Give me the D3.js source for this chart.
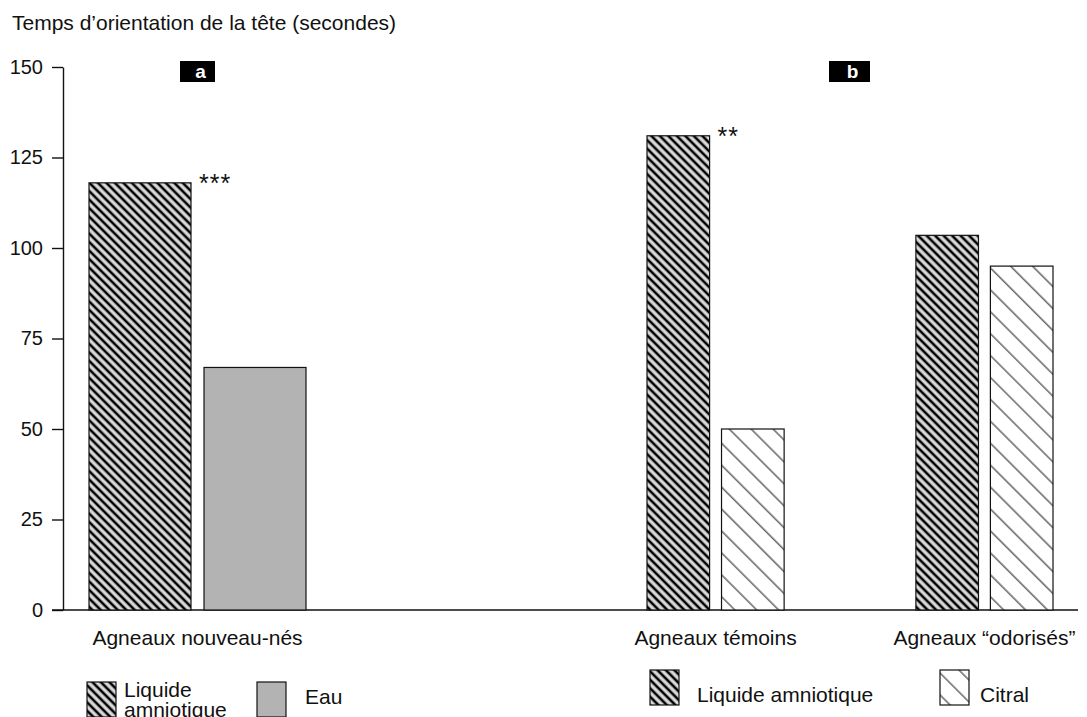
<!DOCTYPE html>
<html>
<head>
<meta charset="utf-8">
<script src="https://cdn.jsdelivr.net/npm/d3@7"></script>
<style>
  body { margin: 0; background: #fff; }
  text { font-family: "Liberation Sans", Arial, sans-serif; fill: #111; }
</style>
</head>
<body>
<div id="chart"></div>
<script>
// Chart data
var groupsA = ["Agneaux nouveau-nés"];
var groupsB = ["Agneaux témoins", "Agneaux “odorisés”"];
var seriesA = ["Liquide amniotique", "Eau"];
var seriesB = ["Liquide amniotique", "Citral"];
var valuesA = [[118, 67]];
var valuesB = [[131, 50], [103.5, 95]];
var starsA = ["***"];
var starsB = ["**", ""];
var yTicks = [0, 25, 50, 75, 100, 125, 150];
var panelLabels = ["a", "b"];

var width = 1087, height = 717;

var svg = d3.select('#chart')
    .append('svg')
    .attr('width', width)
    .attr('height', height);

// Patterns
var defs = svg.append('defs');

// soft black/white stripes for the amniotic liquid
var grad = defs.append('linearGradient')
    .attr('id', 'grad-stripe')
    .attr('x1', 0).attr('x2', 1).attr('y1', 0).attr('y2', 0);
grad.append('stop').attr('offset', '0').attr('stop-color', '#fff');
grad.append('stop').attr('offset', '0.25').attr('stop-color', '#999');
grad.append('stop').attr('offset', '0.4').attr('stop-color', '#000');
grad.append('stop').attr('offset', '0.6').attr('stop-color', '#000');
grad.append('stop').attr('offset', '0.75').attr('stop-color', '#999');
grad.append('stop').attr('offset', '1').attr('stop-color', '#fff');

var pLA = defs.append('pattern')
    .attr('id', 'pat-la')
    .attr('patternUnits', 'userSpaceOnUse')
    .attr('width', 6)
    .attr('height', 6)
    .attr('patternTransform', 'rotate(-45)');
pLA.append('rect').attr('width', 6).attr('height', 6).attr('fill', 'url(#grad-stripe)');

var pCit = defs.append('pattern')
    .attr('id', 'pat-citral')
    .attr('patternUnits', 'userSpaceOnUse')
    .attr('width', 15.5)
    .attr('height', 15.5)
    .attr('patternTransform', 'rotate(-45)');
pCit.append('rect').attr('width', 15.5).attr('height', 15.5).attr('fill', '#fff');
pCit.append('rect').attr('x', 2).attr('width', 1.5).attr('height', 15.5).attr('fill', '#666');

var fills = {
    "Liquide amniotique": "url(#pat-la)",
    "Eau": "#b3b3b3",
    "Citral": "url(#pat-citral)"
};

// Scales
var y = d3.scaleLinear().domain([0, 150]).range([610, 67]);

var xA = d3.scaleBand().domain(groupsA).range([89, 306]).paddingInner(0).paddingOuter(0);
var xAin = d3.scaleBand().domain(seriesA).range([0, xA.bandwidth()]).paddingInner(0.113);

var xB = d3.scaleBand().domain(groupsB).range([647, 1053]).paddingInner(0.49).paddingOuter(0);
var xBin = d3.scaleBand().domain(seriesB).range([0, xB.bandwidth()]).paddingInner(0.16);

// Title
svg.append('text')
    .attr('x', 12)
    .attr('y', 30)
    .style('font-size', '21px')
    .text('Temps d’orientation de la tête (secondes)');

// Y axis
var yAxis = svg.append('g')
    .attr('transform', 'translate(63,0)')
    .call(d3.axisLeft(y).tickValues(yTicks).tickSize(11).tickSizeOuter(0).tickPadding(9));
yAxis.select('.domain').attr('stroke', '#111').attr('stroke-width', 1.4);
yAxis.selectAll('.tick line').attr('stroke', '#111').attr('stroke-width', 1.4);
yAxis.selectAll('.tick text')
    .style('font-size', '20px')
    .style('font-family', '"Liberation Sans", Arial, sans-serif')
    .attr('fill', '#111');

// Baseline
svg.append('line')
    .attr('x1', 52).attr('x2', 1078)
    .attr('y1', y(0)).attr('y2', y(0))
    .attr('stroke', '#111')
    .attr('stroke-width', 1.4);

// Draw one panel of grouped bars
function drawPanel(groups, series, values, stars, xOut, xIn) {
    groups.forEach(function(g, gi) {
        var gx = xOut(g);
        var grp = svg.append('g').attr('transform', 'translate(' + gx + ',0)');

        grp.selectAll('rect')
            .data(series.map(function(s, si) { return { s: s, v: values[gi][si] }; }))
            .enter()
            .append('rect')
            .attr('x', function(d) { return xIn(d.s); })
            .attr('y', function(d) { return y(d.v); })
            .attr('width', xIn.bandwidth())
            .attr('height', function(d) { return y(0) - y(d.v); })
            .attr('fill', function(d) { return fills[d.s]; })
            .attr('stroke', '#111')
            .attr('stroke-width', 1.2);

        // significance stars next to the first bar
        if (stars[gi]) {
            grp.append('text')
                .attr('x', xIn(series[0]) + xIn.bandwidth() + 8)
                .attr('y', y(values[gi][0]) + 9)
                .style('font-size', '25px')
                .style('letter-spacing', '1px')
                .text(stars[gi]);
        }

        // group label
        svg.append('text')
            .attr('x', gx + xOut.bandwidth() / 2)
            .attr('y', 645)
            .attr('text-anchor', 'middle')
            .style('font-size', '21px')
            .text(g);
    });
}

drawPanel(groupsA, seriesA, valuesA, starsA, xA, xAin);
drawPanel(groupsB, seriesB, valuesB, starsB, xB, xBin);

// Panel labels
var panelPos = [{ x: 180, w: 35 }, { x: 829, w: 41 }];
panelLabels.forEach(function(l, i) {
    svg.append('rect')
        .attr('x', panelPos[i].x)
        .attr('y', 61)
        .attr('width', panelPos[i].w)
        .attr('height', 21)
        .attr('fill', '#000');
    svg.append('text')
        .attr('x', panelPos[i].x + panelPos[i].w / 2 + 3)
        .attr('y', 78)
        .attr('text-anchor', 'middle')
        .style('font-size', '19px')
        .style('font-weight', 'bold')
        .style('fill', '#fff')
        .text(l);
});

// Legends
function legendItem(x, yTop, key, lines, tx, ty) {
    svg.append('rect')
        .attr('x', x)
        .attr('y', yTop)
        .attr('width', 29)
        .attr('height', 35)
        .attr('fill', fills[key])
        .attr('stroke', '#111')
        .attr('stroke-width', 1.2);
    lines.forEach(function(t, i) {
        svg.append('text')
            .attr('x', tx)
            .attr('y', ty + i * 20)
            .style('font-size', '21px')
            .text(t);
    });
}

legendItem(87, 682, seriesA[0], ["Liquide", "amniotique"], 124, 697);
legendItem(257, 682, seriesA[1], [seriesA[1]], 305, 704);
legendItem(650, 670, seriesB[0], [seriesB[0]], 697, 702);
legendItem(940, 670, seriesB[1], [seriesB[1]], 980, 702);
</script>
</body>
</html>
